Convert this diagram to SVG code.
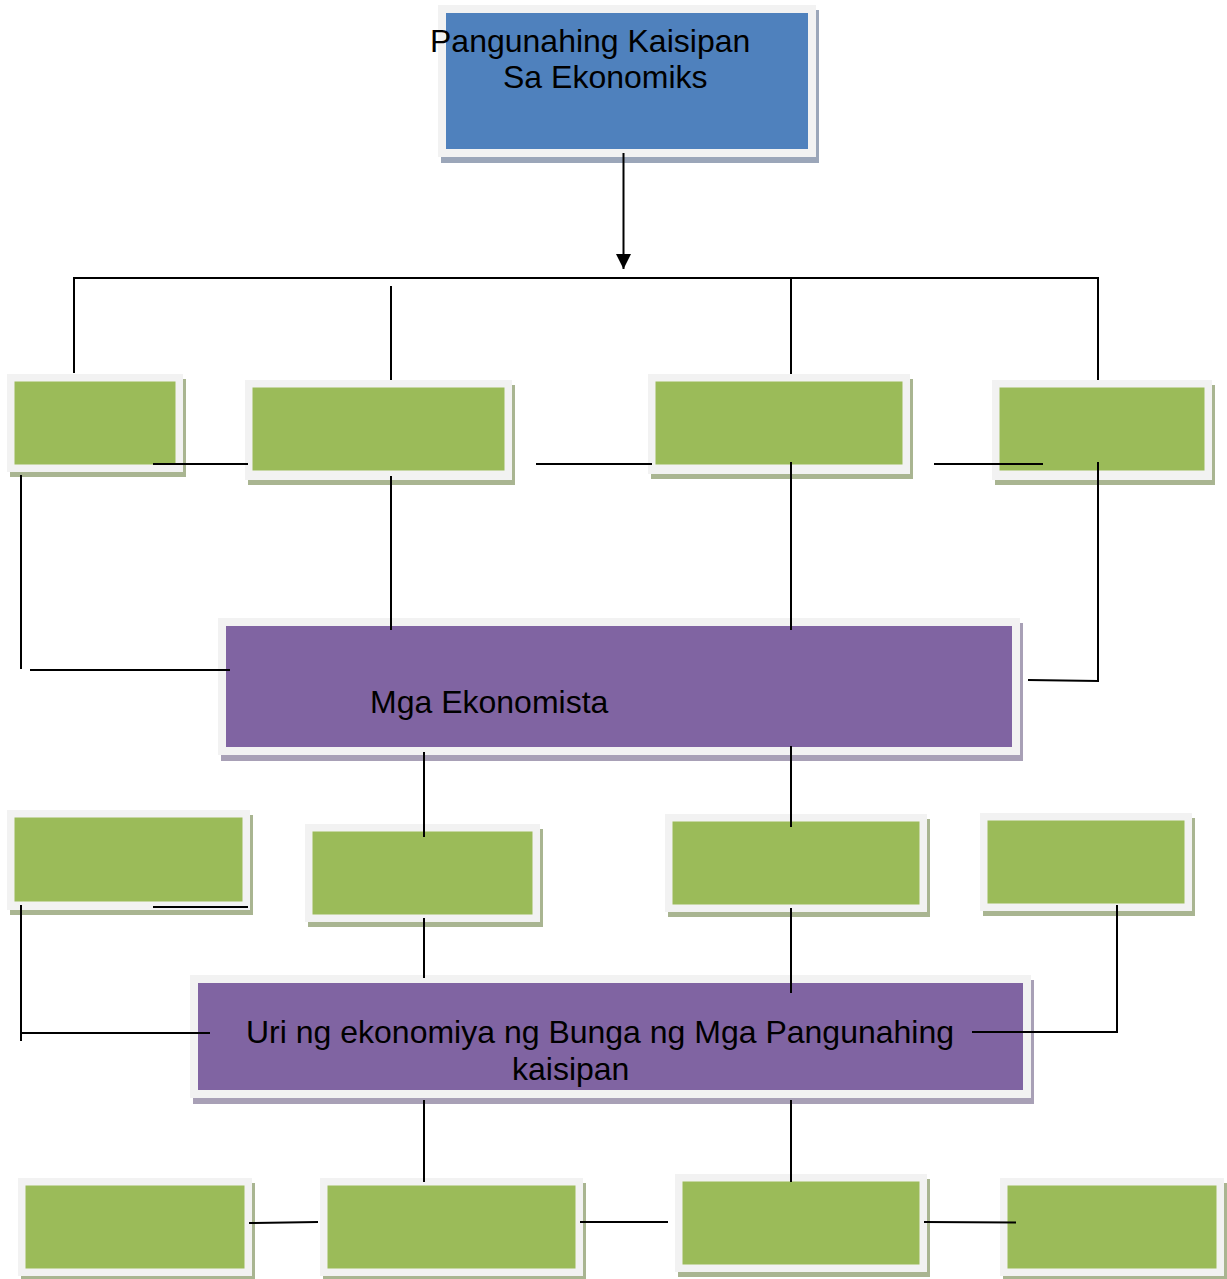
<svg xmlns="http://www.w3.org/2000/svg" width="1227" height="1279" viewBox="0 0 1227 1279">
<style>
.frame{fill:#f2f2f2}
.sh-b{fill:#9ba6b9}
.sh-g{fill:#a9b591}
.sh-p{fill:#a8a0b6}
.blue{fill:#4f81bd}
.green{fill:#9bbb59}
.purple{fill:#8064a2}
.lbl{font-family:"Liberation Sans",Arial,sans-serif;font-size:32px;fill:#000}
.conn line,.conn polyline{stroke:#000;stroke-width:2;fill:none}
</style>
<defs>
<marker id="arr" viewBox="0 0 10 10" refX="10" refY="5" markerWidth="15" markerHeight="15" markerUnits="userSpaceOnUse" orient="auto">
<path d="M0,0 L10,5 L0,10 z" fill="#000"/>
</marker>
</defs>
<rect width="1227" height="1279" fill="#fff"/>

<g id="node-top">
<rect class="sh-b" x="441" y="10" width="378" height="153"/>
<rect class="frame" x="438" y="5" width="378" height="152"/>
<rect class="blue" x="446" y="13" width="362" height="136"/>
<text class="lbl" x="430" y="52">Pangunahing Kaisipan</text>
<text class="lbl" x="503" y="88">Sa Ekonomiks</text>
</g>

<g id="node-r1-1">
<rect class="sh-g" x="10" y="379" width="176" height="98"/>
<rect class="frame" x="7" y="374" width="176" height="98"/>
<rect class="green" x="14.5" y="381.5" width="161" height="83"/>
</g>
<g id="node-r1-2">
<rect class="sh-g" x="248" y="385" width="267" height="100"/>
<rect class="frame" x="245" y="380" width="267" height="100"/>
<rect class="green" x="252.5" y="387.5" width="252" height="83"/>
</g>
<g id="node-r1-3">
<rect class="sh-g" x="651" y="379" width="262" height="100"/>
<rect class="frame" x="648" y="374" width="262" height="100"/>
<rect class="green" x="655.5" y="381.5" width="247" height="83"/>
</g>
<g id="node-r1-4">
<rect class="sh-g" x="995" y="385" width="220" height="100"/>
<rect class="frame" x="992" y="380" width="220" height="100"/>
<rect class="green" x="999.5" y="387.5" width="205" height="83"/>
</g>

<g id="node-ekonomista">
<rect class="sh-p" x="221" y="623" width="802" height="138"/>
<rect class="frame" x="218" y="618" width="802" height="137"/>
<rect class="purple" x="226" y="626" width="786" height="121"/>
<text class="lbl" x="370" y="713">Mga Ekonomista</text>
</g>

<g id="node-r2-1">
<rect class="sh-g" x="10" y="815" width="243" height="100"/>
<rect class="frame" x="7" y="810" width="243" height="100"/>
<rect class="green" x="14.5" y="817.5" width="228" height="84"/>
</g>
<g id="node-r2-2">
<rect class="sh-g" x="308" y="829" width="235" height="98"/>
<rect class="frame" x="305" y="824" width="235" height="98"/>
<rect class="green" x="312.5" y="831.5" width="220" height="83"/>
</g>
<g id="node-r2-3">
<rect class="sh-g" x="668" y="819" width="262" height="98"/>
<rect class="frame" x="665" y="814" width="262" height="98"/>
<rect class="green" x="672.5" y="821.5" width="247" height="83"/>
</g>
<g id="node-r2-4">
<rect class="sh-g" x="983" y="818" width="212" height="98"/>
<rect class="frame" x="980" y="813" width="212" height="98"/>
<rect class="green" x="987.5" y="820.5" width="197" height="83"/>
</g>

<g id="node-uri">
<rect class="sh-p" x="193" y="980" width="841" height="124"/>
<rect class="frame" x="190" y="975" width="841" height="123"/>
<rect class="purple" x="198" y="983" width="825" height="107"/>
<text class="lbl" x="246" y="1043">Uri ng ekonomiya ng Bunga ng Mga Pangunahing</text>
<text class="lbl" x="512" y="1080">kaisipan</text>
</g>

<g id="node-r3-1">
<rect class="sh-g" x="21" y="1183" width="234" height="98"/>
<rect class="frame" x="18" y="1178" width="234" height="98"/>
<rect class="green" x="25.5" y="1185.5" width="219" height="83"/>
</g>
<g id="node-r3-2">
<rect class="sh-g" x="323" y="1183" width="263" height="98"/>
<rect class="frame" x="320" y="1178" width="263" height="98"/>
<rect class="green" x="327.5" y="1185.5" width="248" height="83"/>
</g>
<g id="node-r3-3">
<rect class="sh-g" x="678" y="1179" width="252" height="98"/>
<rect class="frame" x="675" y="1174" width="252" height="98"/>
<rect class="green" x="682.5" y="1181.5" width="237" height="83"/>
</g>
<g id="node-r3-4">
<rect class="sh-g" x="1003" y="1183" width="224" height="98"/>
<rect class="frame" x="1000" y="1178" width="224" height="98"/>
<rect class="green" x="1007.5" y="1185.5" width="209" height="83"/>
</g>

<g id="connectors" class="conn">
<line x1="623.5" y1="153" x2="623.5" y2="269" marker-end="url(#arr)"/>
<line x1="73" y1="278" x2="1099" y2="278"/>
<line x1="74" y1="278" x2="74" y2="373"/>
<line x1="391" y1="286" x2="391" y2="380"/>
<line x1="791" y1="278" x2="791" y2="374"/>
<line x1="1098" y1="278" x2="1098" y2="380"/>
<line x1="153" y1="464" x2="248" y2="464"/>
<line x1="536" y1="464" x2="652" y2="464"/>
<line x1="934" y1="464" x2="1043" y2="464"/>
<line x1="21" y1="475" x2="21" y2="669"/>
<line x1="30" y1="670" x2="230" y2="670"/>
<line x1="391" y1="476" x2="391" y2="630"/>
<line x1="791" y1="462" x2="791" y2="630"/>
<polyline points="1098,462 1098,681 1028,680"/>
<line x1="424" y1="752" x2="424" y2="837"/>
<line x1="791" y1="746" x2="791" y2="827"/>
<line x1="153" y1="907" x2="248" y2="907"/>
<polyline points="21,905 21,1041"/>
<line x1="21" y1="1033" x2="210" y2="1033"/>
<line x1="424" y1="918" x2="424" y2="978"/>
<line x1="791" y1="908" x2="791" y2="993"/>
<polyline points="1117,905 1117,1032 972,1032"/>
<line x1="424" y1="1100" x2="424" y2="1182"/>
<line x1="791" y1="1100" x2="791" y2="1182"/>
<line x1="249" y1="1223" x2="318" y2="1222"/>
<line x1="580" y1="1222" x2="668" y2="1222"/>
<line x1="924" y1="1222" x2="1016" y2="1222.5"/>
</g>
</svg>
